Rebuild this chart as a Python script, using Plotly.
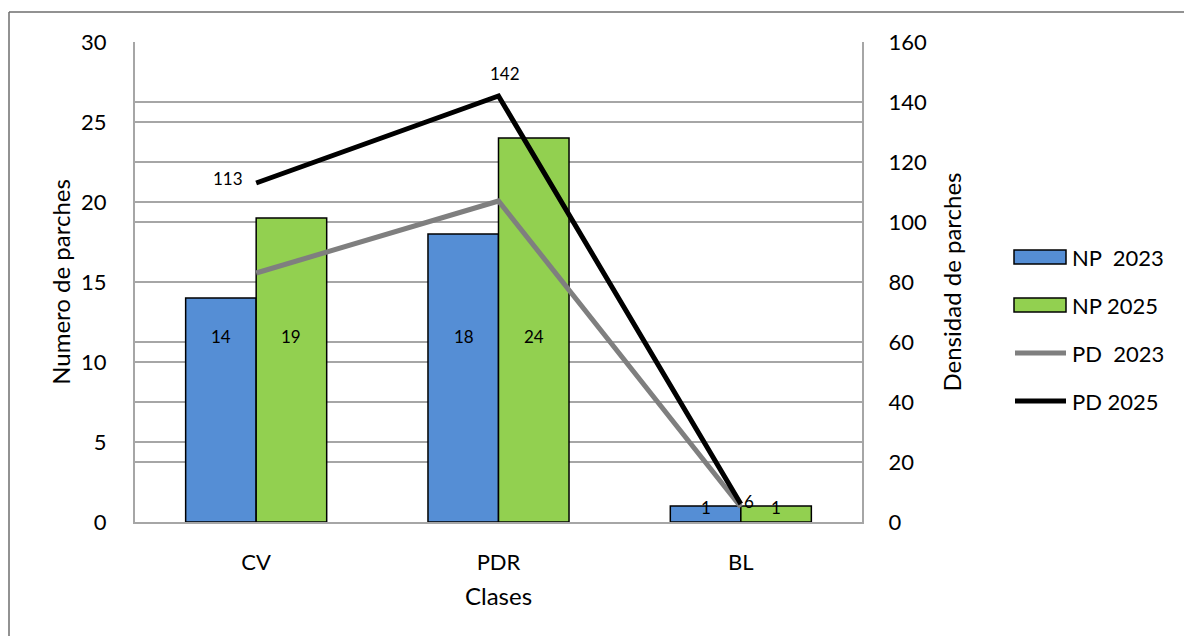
import plotly.graph_objects as go

# Patch metrics per land-cover class
classes = ["CV", "PDR", "BL"]
np_2023 = [14, 18, 1]
np_2025 = [19, 24, 1]
pd_2023 = [83, 107, 5]
pd_2025 = [113, 142, 6]

FONT = "Lato"
BLUE = "#558ED5"
GREEN = "#92D050"
GRAY_LINE = "#7F7F7F"
GRID = "#A6A6A6"

fig = go.Figure()

fig.add_trace(go.Bar(name="NP\u00a0 2023", x=classes, y=np_2023, marker=dict(color=BLUE, line=dict(color="black", width=1.5))))
fig.add_trace(go.Bar(name="NP 2025", x=classes, y=np_2025, marker=dict(color=GREEN, line=dict(color="black", width=1.5))))
fig.add_trace(go.Scatter(name="PD\u00a0 2023", x=classes, y=pd_2023, yaxis="y2", mode="lines",
                         line=dict(color=GRAY_LINE, width=5)))
fig.add_trace(go.Scatter(name="PD 2025", x=classes, y=pd_2025, yaxis="y2", mode="lines",
                         line=dict(color="black", width=5)))

annotations = []
# bar value labels, sitting mid-height for tall bars and at the top of short ones
for vals, shift in ((np_2023, -35), (np_2025, 35)):
    for c, v in zip(classes, vals):
        y = 11.6 if v > 12 else v - 0.1
        annotations.append(dict(x=c, y=y, xref="x", yref="y", text=str(v), showarrow=False,
                                xshift=shift, font=dict(family=FONT, size=17, color="black")))

# density labels for the 2025 line
pd_label_offsets = [(-28, 5), (6, 23), (8, 3)]
for c, v, (dx, dy) in zip(classes, pd_2025, pd_label_offsets):
    annotations.append(dict(x=c, y=v, xref="x", yref="y2", text=str(v), showarrow=False,
                            xshift=dx, yshift=dy, font=dict(family=FONT, size=17, color="black")))

# legend drawn beside the plot area
shapes = []
legend_items = [
    ("bar", BLUE, "NP\u00a0 2023"),
    ("bar", GREEN, "NP 2025"),
    ("line", GRAY_LINE, "PD\u00a0 2023"),
    ("line", "black", "PD 2025"),
]
px_w, px_h = 727.0, 480.0
def px_x(p):
    return (p - 135) / px_w
def px_y(p):
    return (522 - p) / px_h

for i, (kind, color, label) in enumerate(legend_items):
    cy = 257 + 48 * i
    if kind == "bar":
        shapes.append(dict(type="rect", xref="paper", yref="paper",
                           x0=px_x(1014), x1=px_x(1066), y0=px_y(cy + 7), y1=px_y(cy - 7),
                           fillcolor=color, line=dict(color="black", width=1.5)))
    else:
        shapes.append(dict(type="line", xref="paper", yref="paper",
                           x0=px_x(1015), x1=px_x(1066), y0=px_y(cy), y1=px_y(cy),
                           line=dict(color=color, width=5)))
    annotations.append(dict(x=px_x(1070), y=px_y(cy), xref="paper", yref="paper", text=label,
                            showarrow=False, xanchor="left", yanchor="middle",
                            font=dict(family=FONT, size=22, color="black")))

# chart frame lines
shapes.append(dict(type="line", xref="paper", yref="paper", x0=px_x(9), x1=px_x(9), y0=px_y(12), y1=px_y(700),
                   line=dict(color="#6E6E6E", width=1.5)))
shapes.append(dict(type="line", xref="paper", yref="paper", x0=px_x(9), x1=px_x(1300), y0=px_y(12), y1=px_y(12),
                   line=dict(color="#6E6E6E", width=1.5)))

fig.update_layout(
    width=1184, height=636,
    margin=dict(l=135, r=322, t=42, b=114),
    paper_bgcolor="white", plot_bgcolor="white",
    barmode="group", bargap=0.418, bargroupgap=0,
    showlegend=False,
    font=dict(family=FONT, size=22, color="black"),
    xaxis=dict(showline=True, linecolor=GRID, linewidth=2, showgrid=False,
               ticks="", ticklabelstandoff=20,
               title=dict(text="Clases", standoff=14, font=dict(size=24))),
    yaxis=dict(range=[0, 30], dtick=5, showgrid=True, gridcolor=GRID, gridwidth=2,
               showline=True, linecolor=GRID, linewidth=2, mirror=True, zeroline=False,
               ticks="", ticklabelstandoff=22,
               title=dict(text="Numero de parches", standoff=4, font=dict(size=24))),
    yaxis2=dict(range=[0, 160], dtick=20, overlaying="y", side="right",
                showgrid=True, gridcolor=GRID, gridwidth=2, showline=True, linecolor=GRID, linewidth=2,
                zeroline=False, ticks="", ticklabelstandoff=20,
                title=dict(text="Densidad de parches", standoff=18, font=dict(size=24))),
    annotations=annotations,
    shapes=shapes,
)

fig.write_html("out.html")
